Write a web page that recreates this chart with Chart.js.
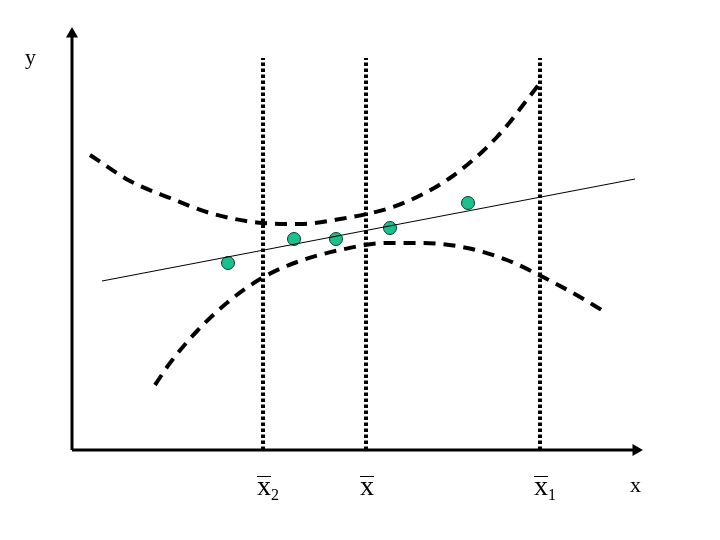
<!DOCTYPE html>
<html>
<head>
<meta charset="utf-8">
<script src="https://cdn.jsdelivr.net/npm/chart.js@4/dist/chart.umd.min.js"></script>
<style>
    body { margin: 0; background: #fff; }
    #wrap { width: 720px; height: 540px; }
</style>
</head>
<body>
<div id="wrap"><canvas id="graph" width="720" height="540"></canvas></div>
<script>
// x / y measured from the origin of the drawn axes
var xMax = 568
var yMax = 420

// sample points
var pointX = [156, 222, 264, 318, 396]
var pointY = [187, 211, 211, 222, 247]

// fitted line (two ends)
var fitX = [30, 563]
var fitY = [169, 271]

// upper confidence band
var upperX = [18, 58, 98, 138, 191, 228, 268, 321, 355, 378, 395, 410, 425, 438, 451, 468]
var upperY = [295, 269, 252, 237, 227, 226, 231, 243, 258, 272, 285, 298, 313, 328, 345, 367]

// lower confidence band
var lowerX = [83, 98, 126, 156, 190, 225, 268, 315, 351, 395, 435, 471, 508, 533]
var lowerY = [65, 87, 120, 148, 172, 188, 200, 207, 207, 202, 190, 173, 153, 138]

// marked x positions: x2 bar, x bar, x1 bar
var markX = [191, 294, 468]
var markTop = 392
var markLabels = ["x", "x", "x"]
var markSubs = ["2", "", "1"]

function toPoints(xs, ys) {
    var ret = []
    for (let i = 0; i < xs.length; i++) {
        ret.push({ x: xs[i], y: ys[i] })
    }
    return ret
}

var datasets = []

// vertical dotted lines
markX.forEach(function (m) {
    datasets.push({
        data: [{ x: m, y: 0 }, { x: m, y: markTop }],
        borderColor: "#000", borderWidth: 4, borderDash: [3.5, 2.5],
        pointRadius: 0, borderCapStyle: "butt"
    })
})

datasets.push({
    data: toPoints(upperX, upperY),
    borderColor: "#000", borderWidth: 4, borderDash: [12, 8],
    pointRadius: 0, cubicInterpolationMode: "monotone"
})
datasets.push({
    data: toPoints(lowerX, lowerY),
    borderColor: "#000", borderWidth: 4, borderDash: [12, 8],
    pointRadius: 0, cubicInterpolationMode: "monotone"
})
datasets.push({
    data: toPoints(fitX, fitY),
    borderColor: "#000", borderWidth: 1, pointRadius: 0
})
datasets.push({
    data: toPoints(pointX, pointY),
    showLine: false, pointRadius: 6.5,
    pointBackgroundColor: "#1cbf8e", pointBorderColor: "#0b3d2c", pointBorderWidth: 1
})

// axes with arrow heads
datasets.push({
    data: [{ x: 0, y: 0 }, { x: 0, y: yMax - 4 }],
    borderColor: "#000", borderWidth: 3,
    pointStyle: "triangle", pointRadius: [0, 4], pointRotation: 0,
    pointBackgroundColor: "#000", pointBorderColor: "#000"
})
datasets.push({
    data: [{ x: 0, y: 0 }, { x: xMax - 4, y: 0 }],
    borderColor: "#000", borderWidth: 3,
    pointStyle: "triangle", pointRadius: [0, 4], pointRotation: 90,
    pointBackgroundColor: "#000", pointBorderColor: "#000"
})

var labelPlugin = {
    id: "labels",
    afterDraw: function (chart) {
        var ctx = chart.ctx
        var sx = chart.scales.x
        var sy = chart.scales.y
        ctx.save()
        ctx.fillStyle = "#000"
        ctx.strokeStyle = "#000"
        ctx.textBaseline = "alphabetic"
        ctx.textAlign = "left"

        ctx.font = '22px "Liberation Serif"'
        ctx.fillText("y", 25, 64)
        ctx.fillText("x", 630, 492)

        for (let i = 0; i < markX.length; i++) {
            var px = sx.getPixelForValue(markX[i]) - 6
            var base = sy.getPixelForValue(0) + 45
            ctx.font = '28px "Liberation Serif"'
            ctx.fillText(markLabels[i], px, base)
            var w = ctx.measureText(markLabels[i]).width
            ctx.lineWidth = 1
            ctx.beginPath()
            ctx.moveTo(px, base - 18.5)
            ctx.lineTo(px + w, base - 18.5)
            ctx.stroke()
            if (markSubs[i] != "") {
                ctx.font = '16px "Liberation Serif"'
                ctx.fillText(markSubs[i], px + w, base + 5)
            }
        }
        ctx.restore()
    }
}

var graph = new Chart(document.getElementById("graph"), {
    type: "line",
    data: { datasets: datasets },
    options: {
        responsive: false,
        animation: false,
        layout: { padding: { left: 72, right: 80, top: 30, bottom: 90 } },
        datasets: { line: { clip: false } },
        plugins: { legend: { display: false }, tooltip: { enabled: false } },
        scales: {
            x: { type: "linear", min: 0, max: xMax, display: false },
            y: { type: "linear", min: 0, max: yMax, display: false }
        }
    },
    plugins: [labelPlugin]
})
</script>
</body>
</html>
